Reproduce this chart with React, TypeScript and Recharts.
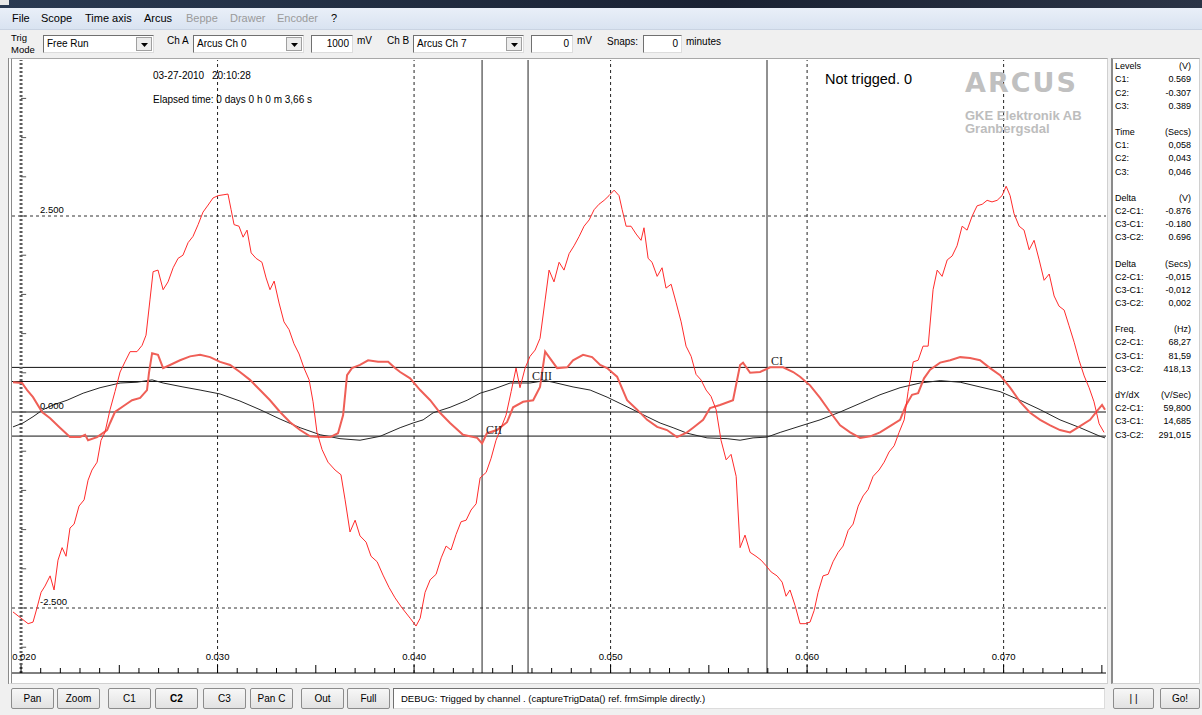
import React from 'react'
import { LineChart, Line, XAxis, YAxis, ReferenceLine, ReferenceDot } from 'recharts'

// captured samples, [time (s), level (V)]
// Ch A - thin red trace
const chA: [number, number][] = [
  [0.01959, -2.55], [0.02, -2.63], [0.02036, -2.7], [0.02061, -2.68], [0.02081, -2.5], [0.02102, -2.3],
  [0.02122, -2.22], [0.02148, -2.09], [0.02168, -2.27], [0.02188, -1.89], [0.02209, -1.73], [0.02229, -1.84],
  [0.02249, -1.48], [0.0227, -1.43], [0.02295, -1.2], [0.02321, -1.12], [0.02341, -0.87], [0.02361, -0.74],
  [0.02387, -0.64], [0.02407, -0.36], [0.02427, -0.26], [0.02453, 0.03], [0.02478, 0.26], [0.02504, 0.51],
  [0.02529, 0.64], [0.02555, 0.77], [0.0259, 0.77], [0.02616, 0.85], [0.02636, 0.98], [0.02656, 1.43],
  [0.02672, 1.79], [0.02697, 1.81], [0.02723, 1.56], [0.02748, 1.66], [0.02774, 1.84], [0.02799, 1.96],
  [0.02824, 2.0], [0.0285, 2.16], [0.02875, 2.24], [0.02901, 2.39], [0.02926, 2.55], [0.02952, 2.64],
  [0.02977, 2.73], [0.03003, 2.76], [0.03028, 2.77], [0.03053, 2.78], [0.03069, 2.58], [0.03084, 2.39],
  [0.03109, 2.37], [0.0313, 2.23], [0.0315, 2.32], [0.03171, 2.03], [0.03196, 1.96], [0.03226, 1.91],
  [0.03247, 1.71], [0.03267, 1.56], [0.03288, 1.67], [0.03313, 1.39], [0.03338, 1.15], [0.03364, 1.05],
  [0.03389, 0.87], [0.03415, 0.74], [0.0344, 0.56], [0.03466, 0.41], [0.03486, 0.13], [0.03506, -0.26],
  [0.03532, -0.48], [0.03562, -0.64], [0.03598, -0.74], [0.03628, -0.8], [0.03649, -1.12], [0.03674, -1.53],
  [0.037, -1.38], [0.03725, -1.58], [0.03756, -1.66], [0.03781, -1.84], [0.03812, -1.91], [0.03842, -2.08],
  [0.03873, -2.24], [0.03903, -2.37], [0.03939, -2.5], [0.0398, -2.63], [0.0401, -2.73], [0.04031, -2.63],
  [0.04056, -2.3], [0.04082, -2.14], [0.04112, -2.07], [0.04138, -1.86], [0.04163, -1.71], [0.04188, -1.76],
  [0.04214, -1.56], [0.04239, -1.4], [0.04265, -1.38], [0.0429, -1.25], [0.04316, -1.17], [0.04336, -0.84],
  [0.04367, -0.77], [0.04392, -0.59], [0.04417, -0.36], [0.04443, -0.2], [0.04468, -0.04], [0.04494, 0.26],
  [0.04519, 0.56], [0.04539, 0.31], [0.04565, 0.56], [0.0459, 0.71], [0.04616, 0.79], [0.04641, 0.94],
  [0.04667, 1.43], [0.04687, 1.81], [0.04712, 1.66], [0.04738, 1.91], [0.04763, 1.81], [0.04789, 2.02],
  [0.04814, 2.12], [0.0484, 2.24], [0.04865, 2.37], [0.04891, 2.45], [0.04916, 2.58], [0.04941, 2.65],
  [0.04967, 2.7], [0.04992, 2.76], [0.05018, 2.83], [0.05043, 2.76], [0.05059, 2.58], [0.05079, 2.37],
  [0.05104, 2.37], [0.0513, 2.27], [0.05155, 2.19], [0.0517, 2.35], [0.05191, 1.96], [0.05211, 1.91],
  [0.05237, 1.73], [0.05262, 1.84], [0.05282, 1.58], [0.05308, 1.63], [0.05333, 1.4], [0.05359, 1.15],
  [0.05384, 0.84], [0.0541, 0.71], [0.05435, 0.48], [0.0546, 0.41], [0.05486, 0.28], [0.05511, 0.2],
  [0.05537, 0.03], [0.05562, -0.36], [0.05588, -0.61], [0.05613, -0.54], [0.05639, -0.82], [0.05659, -1.73],
  [0.05684, -1.57], [0.0571, -1.79], [0.0574, -1.84], [0.05766, -1.89], [0.05791, -1.96], [0.05817, -2.04],
  [0.05847, -2.09], [0.05873, -2.17], [0.05893, -2.35], [0.05913, -2.27], [0.05939, -2.47], [0.05964, -2.7],
  [0.0599, -2.7], [0.06015, -2.68], [0.06036, -2.53], [0.06056, -2.3], [0.06081, -2.09], [0.06107, -2.07],
  [0.06132, -1.91], [0.06158, -1.79], [0.06183, -1.71], [0.06209, -1.51], [0.06234, -1.43], [0.0626, -1.2],
  [0.06285, -1.07], [0.0631, -0.99], [0.06336, -0.82], [0.06366, -0.74], [0.06392, -0.64], [0.06417, -0.51],
  [0.06443, -0.43], [0.06468, -0.26], [0.06494, -0.1], [0.06514, 0.26], [0.0654, 0.64], [0.06565, 0.66],
  [0.0659, 0.84], [0.06616, 0.84], [0.06641, 1.56], [0.06662, 1.81], [0.06687, 1.73], [0.06713, 1.94],
  [0.06738, 1.99], [0.06763, 2.12], [0.06789, 2.37], [0.06814, 2.32], [0.0684, 2.5], [0.06865, 2.63],
  [0.06891, 2.65], [0.06916, 2.7], [0.06941, 2.68], [0.06967, 2.7], [0.06992, 2.76], [0.07013, 2.88],
  [0.07033, 2.76], [0.07053, 2.53], [0.07079, 2.37], [0.07104, 2.32], [0.0713, 2.07], [0.07155, 2.19],
  [0.07181, 1.94], [0.07206, 1.68], [0.07232, 1.76], [0.07257, 1.48], [0.07282, 1.35], [0.07308, 1.3],
  [0.07333, 1.1], [0.07359, 0.89], [0.07384, 0.66], [0.0741, 0.46], [0.07435, 0.31], [0.0746, 0.13],
  [0.07486, -0.15], [0.07511, -0.26],
]

// Ch B - thick salmon trace
const chB: [number, number][] = [
  [0.01959, 0.38], [0.02005, 0.37], [0.02031, 0.28], [0.02061, 0.19], [0.02107, 0.0], [0.02148, -0.08],
  [0.02198, -0.2], [0.02249, -0.32], [0.023, -0.32], [0.02326, -0.29], [0.02341, -0.36], [0.02387, -0.32],
  [0.02438, -0.23], [0.02453, -0.14], [0.02478, 0.0], [0.02529, 0.09], [0.02565, 0.15], [0.02606, 0.18],
  [0.02641, 0.28], [0.02651, 0.5], [0.02667, 0.75], [0.02697, 0.73], [0.02723, 0.56], [0.02758, 0.6],
  [0.02809, 0.66], [0.0286, 0.71], [0.02911, 0.73], [0.02962, 0.7], [0.03013, 0.64], [0.03064, 0.6],
  [0.03114, 0.51], [0.03165, 0.41], [0.03216, 0.28], [0.03267, 0.15], [0.03318, 0.0], [0.03369, -0.13],
  [0.0342, -0.23], [0.03471, -0.31], [0.03522, -0.32], [0.03573, -0.32], [0.03613, -0.27], [0.03639, -0.04],
  [0.03659, 0.47], [0.03684, 0.56], [0.03725, 0.6], [0.03766, 0.66], [0.03817, 0.64], [0.03868, 0.64],
  [0.03903, 0.56], [0.03929, 0.51], [0.0398, 0.43], [0.04031, 0.28], [0.04082, 0.15], [0.04132, -0.01],
  [0.04183, -0.14], [0.04249, -0.29], [0.04321, -0.33], [0.04346, -0.4], [0.04371, -0.27], [0.04422, -0.23],
  [0.04473, -0.13], [0.04504, 0.06], [0.04555, 0.13], [0.04606, 0.15], [0.04641, 0.32], [0.04667, 0.77],
  [0.04728, 0.56], [0.04779, 0.57], [0.04809, 0.66], [0.0486, 0.73], [0.04906, 0.7], [0.04947, 0.6],
  [0.04982, 0.56], [0.05033, 0.45], [0.05084, 0.15], [0.05135, 0.03], [0.05186, -0.1], [0.05237, -0.19],
  [0.05287, -0.23], [0.05338, -0.32], [0.05389, -0.26], [0.0542, -0.2], [0.05471, -0.1], [0.05506, 0.05],
  [0.05557, 0.09], [0.05623, 0.15], [0.05659, 0.6], [0.05674, 0.63], [0.0571, 0.5], [0.05761, 0.51],
  [0.05812, 0.57], [0.05878, 0.57], [0.05929, 0.51], [0.05964, 0.45], [0.06015, 0.34], [0.06066, 0.18],
  [0.06117, 0.0], [0.06168, -0.17], [0.06219, -0.26], [0.0627, -0.33], [0.06321, -0.31], [0.06371, -0.26],
  [0.06422, -0.18], [0.06473, -0.1], [0.06504, 0.09], [0.06534, 0.22], [0.06565, 0.24], [0.06595, 0.43],
  [0.06626, 0.54], [0.06677, 0.63], [0.06728, 0.66], [0.06779, 0.7], [0.06829, 0.69], [0.0688, 0.66],
  [0.06931, 0.56], [0.06982, 0.47], [0.07033, 0.31], [0.07084, 0.13], [0.07135, -0.01], [0.07186, -0.1],
  [0.07237, -0.17], [0.07287, -0.23], [0.07338, -0.26], [0.07389, -0.18], [0.0744, -0.1], [0.07481, 0.03],
  [0.07501, 0.09], [0.07516, 0.03],
]

// reference sine - thin black trace
const refWave: [number, number][] = [
  [0.01959, -0.19], [0.0201, -0.14], [0.02061, -0.06], [0.02112, 0.03], [0.02163, 0.09], [0.02234, 0.15],
  [0.02316, 0.24], [0.02402, 0.31], [0.02504, 0.37], [0.0259, 0.38], [0.02667, 0.41], [0.02723, 0.37],
  [0.02824, 0.32], [0.02911, 0.28], [0.03013, 0.23], [0.03114, 0.14], [0.03216, 0.03], [0.03318, -0.09],
  [0.0342, -0.2], [0.03522, -0.29], [0.03623, -0.34], [0.03725, -0.36], [0.03827, -0.31], [0.03929, -0.2],
  [0.03995, -0.14], [0.04046, -0.1], [0.04097, -0.01], [0.04183, 0.06], [0.0427, 0.15], [0.04336, 0.24],
  [0.04402, 0.29], [0.04489, 0.37], [0.0459, 0.37], [0.04667, 0.4], [0.04707, 0.38], [0.04809, 0.32],
  [0.04896, 0.28], [0.04982, 0.19], [0.05048, 0.11], [0.05114, 0.03], [0.05186, -0.06], [0.05252, -0.14],
  [0.05318, -0.2], [0.05389, -0.27], [0.05491, -0.33], [0.05593, -0.34], [0.05659, -0.36], [0.05725, -0.33],
  [0.05796, -0.32], [0.05863, -0.26], [0.05964, -0.18], [0.06066, -0.1], [0.06168, 0.0], [0.0627, 0.11],
  [0.06371, 0.22], [0.06473, 0.31], [0.06575, 0.37], [0.06677, 0.4], [0.06779, 0.38], [0.0688, 0.32],
  [0.06982, 0.26], [0.07084, 0.15], [0.07186, 0.03], [0.07287, -0.1], [0.07389, -0.2], [0.07491, -0.31],
  [0.07516, -0.33],
]

// cursors C1, C2, C3
const cursorTags = ['CI', 'CII', 'CIII']
const cursorTimes = [0.05796, 0.04346, 0.0458]
const cursorLevels = [0.569, -0.307, 0.389]

const timeTicks = [
  0.02, 0.021, 0.022, 0.023, 0.024, 0.025, 0.026, 0.027, 0.028, 0.029,
  0.03, 0.031, 0.032, 0.033, 0.034, 0.035, 0.036, 0.037, 0.038, 0.039,
  0.04, 0.041, 0.042, 0.043, 0.044, 0.045, 0.046, 0.047, 0.048, 0.049,
  0.05, 0.051, 0.052, 0.053, 0.054, 0.055, 0.056, 0.057, 0.058, 0.059,
  0.06, 0.061, 0.062, 0.063, 0.064, 0.065, 0.066, 0.067, 0.068, 0.069,
  0.07, 0.071, 0.072, 0.073, 0.074, 0.075,
]
const timeGrid = [0.03, 0.04, 0.05, 0.06, 0.07]
const levelGrid = [2.5, -2.5]
const levelTicks = [-3, -2.5, -2, -1.5, -1, -0.5, 0, 0.5, 1, 1.5, 2, 2.5, 3, 3.5, 4]
const levelLabelValues = [2.5, 0, -2.5]
const levelLabels = ['2.500', '0.000', '-2.500']

// measurement panel
const panelTitles = ['Levels', 'Time', 'Delta', 'Delta', 'Freq.', 'dY/dX']
const panelUnits = ['(V)', '(Secs)', '(V)', '(Secs)', '(Hz)', '(V/Sec)']
const panelKeys = [
  ['C1:', 'C2:', 'C3:'],
  ['C1:', 'C2:', 'C3:'],
  ['C2-C1:', 'C3-C1:', 'C3-C2:'],
  ['C2-C1:', 'C3-C1:', 'C3-C2:'],
  ['C2-C1:', 'C3-C1:', 'C3-C2:'],
  ['C2-C1:', 'C3-C1:', 'C3-C2:'],
]
const panelValues = [
  ['0.569', '-0.307', '0.389'],
  ['0,058', '0,043', '0,046'],
  ['-0.876', '-0.180', '0.696'],
  ['-0,015', '-0,012', '0,002'],
  ['68,27', '81,59', '418,13'],
  ['59,800', '14,685', '291,015'],
]

const menuItems = ['File', 'Scope', 'Time axis', 'Arcus', 'Beppe', 'Drawer', 'Encoder', '?']
const menuX = [12, 41, 85, 144, 186, 230, 277, 331]
const menuEnabled = [true, true, true, true, false, false, false, true]

const buttonLabels = ['Pan', 'Zoom', 'C1', 'C2', 'C3', 'Pan C', 'Out', 'Full']
const buttonX = [11, 57, 108, 155, 203, 250, 301, 347]

const FONT = '"Liberation Sans", Arial, sans-serif'

const toRows = (pts: [number, number][]) => pts.map(([t, v]) => ({ t, v }))

function Txt({ x, y, size = 10, color = '#000', bold = false, style = {}, children }: any) {
  return (
    <span
      style={{
        position: 'absolute', left: x, top: y - size * 0.52, fontSize: size, lineHeight: 1,
        color, fontWeight: bold ? 'bold' : 'normal', whiteSpace: 'nowrap', ...style,
      }}
    >
      {children}
    </span>
  )
}

function Arrow() {
  return (
    <svg width={7} height={4} style={{ position: 'absolute', left: 4, top: 5 }}>
      <polygon points="0,0 7,0 3.5,4" fill="#000" />
    </svg>
  )
}

function Combo({ x, w, text }: { x: number; w: number; text: string }) {
  return (
    <div
      style={{
        position: 'absolute', left: x, top: 35, width: w, height: 18, boxSizing: 'border-box', background: '#fff',
        borderTop: '1px solid #707070', borderLeft: '1px solid #707070', borderRight: '1px solid #dcdcdc',
        borderBottom: '1px solid #dcdcdc',
      }}
    >
      <span style={{ position: 'absolute', left: 3, top: 3, fontSize: 10, lineHeight: 1 }}>{text}</span>
      <div
        style={{
          position: 'absolute', right: 1, top: 1, width: 16, height: 14, boxSizing: 'border-box',
          background: '#ececec', border: '1px solid #a0a0a0',
        }}
      >
        <Arrow />
      </div>
    </div>
  )
}

function Field({ x, w, text }: { x: number; w: number; text: string }) {
  return (
    <div
      style={{
        position: 'absolute', left: x, top: 35, width: w, height: 18, boxSizing: 'border-box', background: '#fff',
        borderTop: '1px solid #707070', borderLeft: '1px solid #707070', borderRight: '1px solid #dcdcdc',
        borderBottom: '1px solid #dcdcdc',
      }}
    >
      <span style={{ position: 'absolute', right: 3, top: 3, fontSize: 10, lineHeight: 1 }}>{text}</span>
    </div>
  )
}

function Button({ x, w, label, bold = false }: { x: number; w: number; label: string; bold?: boolean }) {
  return (
    <div
      style={{
        position: 'absolute', left: x, top: 688, width: w, height: 21, boxSizing: 'border-box',
        border: '1px solid #8c8c8c', borderRadius: 2, background: 'linear-gradient(#f7f7f7, #e2e2e2)',
        fontSize: 10, lineHeight: '19px', textAlign: 'center', fontWeight: bold ? 'bold' : 'normal',
      }}
    >
      {label}
    </div>
  )
}

function TimeTick(props: any) {
  const { x, y, payload } = props
  const k = Math.round(payload.value * 1000)
  const major = k % 5 === 0
  const labelled = k % 10 === 0
  // first label sits against the left frame
  const nudge = k === 20 ? 3 : 0
  return (
    <g>
      <line x1={x} y1={y} x2={x} y2={y - (major ? 8 : 5)} stroke="#000" />
      {labelled && (
        <text x={x + nudge} y={y - 13} textAnchor="middle" fontSize={9.5} fontFamily={FONT} fill="#000">
          {payload.value.toFixed(3)}
        </text>
      )}
    </g>
  )
}

function ScopeChart() {
  const a = toRows(chA)
  const b = toRows(chB)
  const r = toRows(refWave)
  return (
    <LineChart width={1094} height={622} margin={{ top: 0, right: 0, bottom: 0, left: 0 }}>
      <XAxis
        dataKey="t"
        type="number"
        domain={[0.01954, 0.07521]}
        allowDataOverflow
        ticks={timeTicks}
        interval={0}
        height={9}
        tickSize={0}
        tickMargin={0}
        tickLine={false}
        axisLine={{ stroke: '#000' }}
        tick={(p: any) => <TimeTick {...p} />}
      />
      <YAxis type="number" dataKey="v" domain={[-3.329, 4.49]} allowDataOverflow hide />

      {timeGrid.map((t) => (
        <ReferenceLine key={'tg' + t} x={t} stroke="#222" strokeDasharray="3 3" />
      ))}
      {levelGrid.map((v) => (
        <ReferenceLine key={'lg' + v} y={v} stroke="#333" strokeDasharray="3 3" />
      ))}
      <ReferenceLine y={0} stroke="#111" />
      {cursorLevels.map((v, i) => (
        <ReferenceLine key={'cl' + i} y={v} stroke="#111" />
      ))}
      {cursorTimes.map((t, i) => (
        <ReferenceLine key={'ct' + i} x={t} stroke="#222" />
      ))}

      {/* level axis at t = 0.020 */}
      <ReferenceLine x={0.02} stroke="#5e5e5e" strokeWidth={3} strokeDasharray="2 2" />
      {levelTicks.map((v) => (
        <ReferenceLine
          key={'lt' + v}
          segment={[{ x: 0.02, y: v }, { x: 0.02026, y: v }]}
          stroke="#555"
        />
      ))}
      {levelLabelValues.map((v, i) => (
        <ReferenceDot
          key={'ll' + i}
          x={0.02}
          y={v}
          r={0}
          fill="none"
          stroke="none"
          label={(p: any) => (
            <text x={p.viewBox.x + 19} y={p.viewBox.y - 3} fontSize={9.5} fontFamily={FONT} fill="#000">
              {levelLabels[i]}
            </text>
          )}
        />
      ))}

      <Line data={r} dataKey="v" type="linear" stroke="#262626" strokeWidth={1} dot={false} isAnimationActive={false} />
      <Line data={b} dataKey="v" type="linear" stroke="#ef5f57" strokeWidth={2} dot={false} isAnimationActive={false} />
      <Line data={a} dataKey="v" type="linear" stroke="#ff2b2b" strokeWidth={1} dot={false} isAnimationActive={false} />

      {cursorTimes.map((t, i) => (
        <ReferenceDot
          key={'tag' + i}
          x={t}
          y={cursorLevels[i]}
          r={0}
          fill="none"
          stroke="none"
          label={(p: any) => (
            <text
              x={p.viewBox.x + 4}
              y={p.viewBox.y - 2}
              fontSize={12}
              fontFamily='"Liberation Serif", serif'
              fill="#222"
            >
              {cursorTags[i]}
            </text>
          )}
        />
      ))}
    </LineChart>
  )
}

export default function App() {
  return (
    <div
      style={{
        position: 'absolute', left: 0, top: 0, width: 1202, height: 715, overflow: 'hidden',
        background: '#f0f0f0', fontFamily: FONT, color: '#000',
      }}
    >
      {/* title strip */}
      <div style={{ position: 'absolute', left: 0, top: 0, width: 1202, height: 8, background: 'linear-gradient(90deg, #2a3a52, #1a2233 60%, #2b3446)' }} />
      <div style={{ position: 'absolute', left: 0, top: 0, width: 9, height: 5, background: '#e8e8e8' }} />

      {/* menu */}
      <div style={{ position: 'absolute', left: 0, top: 8, width: 1202, height: 21, background: 'linear-gradient(#e9eff8, #d9e3f1)', borderBottom: '1px solid #c9d3e2' }} />
      {menuItems.map((m, i) => (
        <Txt key={m} x={menuX[i]} y={19} size={11} color={menuEnabled[i] ? '#000' : '#9a9a9a'}>{m}</Txt>
      ))}

      {/* toolbar */}
      <Txt x={11} y={38} size={9.5}>Trig</Txt>
      <Txt x={11} y={50} size={9.5}>Mode</Txt>
      <Combo x={43} w={111} text="Free Run" />
      <Txt x={167} y={41} size={10}>Ch A</Txt>
      <Combo x={193} w={111} text="Arcus Ch 0" />
      <Field x={311} w={42} text="1000" />
      <Txt x={357} y={41} size={10}>mV</Txt>
      <Txt x={387} y={41} size={10}>Ch B</Txt>
      <Combo x={413} w={111} text="Arcus Ch 7" />
      <Field x={531} w={42} text="0" />
      <Txt x={577} y={41} size={10}>mV</Txt>
      <Txt x={607} y={42} size={10}>Snaps:</Txt>
      <Field x={643} w={39} text="0" />
      <Txt x={686} y={42} size={10}>minutes</Txt>

      {/* scope area */}
      <div
        style={{
          position: 'absolute', left: 8, top: 58, width: 1100, height: 626, boxSizing: 'border-box', background: '#fff',
          borderLeft: '4px double #8a8a8a', borderTop: '1px solid #a8a8a8', borderRight: '1px solid #d0d0d0',
          borderBottom: '1px solid #d0d0d0',
        }}
      />
      <div style={{ position: 'absolute', left: 12, top: 60 }}>
        <ScopeChart />
      </div>
      <Txt x={153} y={76} size={10}>03-27-2010</Txt>
      <Txt x={212} y={76} size={10}>20:10:28</Txt>
      <Txt x={153} y={100} size={10}>Elapsed time: 0 days 0 h 0 m 3,66 s</Txt>
      <Txt x={825} y={80} size={14.5}>Not trigged. 0</Txt>
      <Txt x={965} y={83} size={27} bold color="#c0c0c0" style={{ letterSpacing: 2, fontFamily: '"DejaVu Sans", sans-serif' }}>ARCUS</Txt>
      <Txt x={965} y={116} size={13} bold color="#bdbdbd">GKE Elektronik AB</Txt>
      <Txt x={965} y={129} size={13} bold color="#bdbdbd">Granbergsdal</Txt>

      {/* measurement panel */}
      <div
        style={{
          position: 'absolute', left: 1111, top: 58, width: 89, height: 626, boxSizing: 'border-box', background: '#fff',
          borderLeft: '2px solid #8a8a8a', borderTop: '1px solid #a8a8a8', borderRight: '1px solid #d0d0d0',
          borderBottom: '1px solid #d0d0d0',
        }}
      />
      {panelTitles.map((title, g) => {
        const base = 67 + g * 5 * 13.15
        return (
          <React.Fragment key={'pg' + g}>
            <Txt x={1115} y={base} size={9}>{title}</Txt>
            <Txt x={1140} y={base} size={9} style={{ width: 51, textAlign: 'right' }}>{panelUnits[g]}</Txt>
            {panelKeys[g].map((k, j) => (
              <React.Fragment key={'pr' + g + j}>
                <Txt x={1115} y={base + (j + 1) * 13.15} size={9}>{k}</Txt>
                <Txt x={1140} y={base + (j + 1) * 13.15} size={9} style={{ width: 51, textAlign: 'right' }}>
                  {panelValues[g][j]}
                </Txt>
              </React.Fragment>
            ))}
          </React.Fragment>
        )
      })}

      {/* bottom bar */}
      {buttonLabels.map((b, i) => (
        <Button key={b} x={buttonX[i]} w={43} label={b} bold={b === 'C2'} />
      ))}
      <div
        style={{
          position: 'absolute', left: 393, top: 688, width: 712, height: 21, boxSizing: 'border-box', background: '#fff',
          borderTop: '1px solid #707070', borderLeft: '1px solid #707070', borderRight: '1px solid #dcdcdc',
          borderBottom: '1px solid #dcdcdc',
        }}
      />
      <Txt x={401} y={699} size={9.5}>DEBUG: Trigged by channel . (captureTrigData() ref. frmSimple directly.)</Txt>
      <Button x={1113} w={41} label="| |" />
      <Button x={1160} w={40} label="Go!" />
    </div>
  )
}
